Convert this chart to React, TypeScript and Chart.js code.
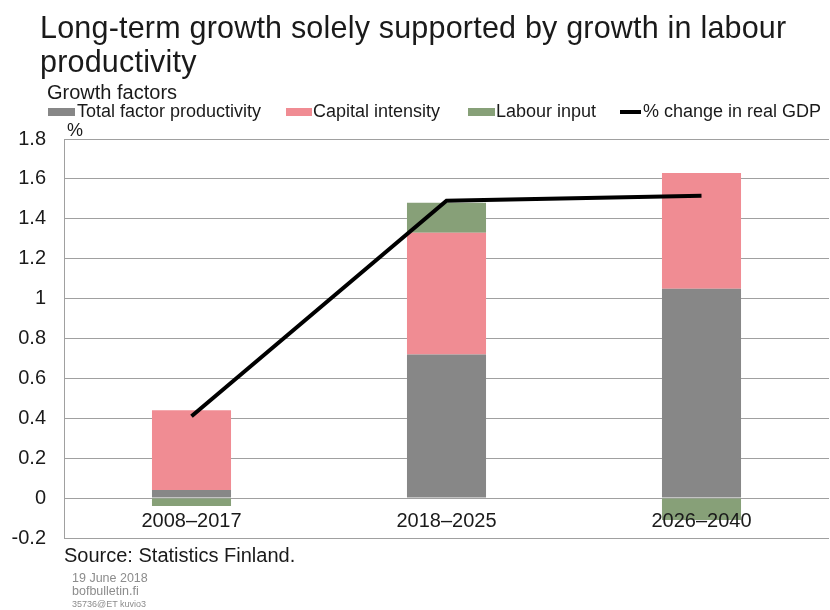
import React, { useEffect, useRef } from "react";
import { Chart, registerables } from "chart.js";

Chart.register(...registerables);

const categories = ["2008–2017", "2018–2025", "2026–2040"];
const tfp = [0.04, 0.72, 1.05];
const capitalIntensity = [0.4, 0.61, 0.58];
const labourInput = [-0.04, 0.15, -0.11];
const realGdp = [0.41, 1.49, 1.515];
const yTicks = [-0.2, 0, 0.2, 0.4, 0.6, 0.8, 1, 1.2, 1.4, 1.6, 1.8];

const FONT = '"Liberation Sans", Arial, sans-serif';
const TEXT = "#1a1a1a";
const GRAY = "#878787";
const PINK = "#f08c93";
const GREEN = "#87a078";

const catLabelPlugin = {
  id: "catLabels",
  afterDatasetsDraw(chart: any) {
    const { ctx, scales } = chart;
    const x = scales.x;
    const y = scales.y;
    ctx.save();
    ctx.font = "20px " + FONT;
    ctx.fillStyle = TEXT;
    ctx.textAlign = "center";
    ctx.textBaseline = "middle";
    const yy = y.getPixelForValue(0) + 23;
    categories.forEach((c, i) => {
      ctx.fillText(c, x.getPixelForValue(i), yy);
    });
    ctx.restore();
  },
};

export default function App() {
  const ref = useRef<HTMLCanvasElement>(null);
  useEffect(() => {
    if (!ref.current) return;
    const chart = new Chart(ref.current, {
      type: "bar",
      data: {
        labels: categories,
        datasets: [
          {
            type: "line",
            label: "% change in real GDP",
            data: realGdp,
            borderColor: "#000",
            backgroundColor: "#000",
            borderWidth: 4,
            pointRadius: 0,
            stack: "gdp",
            order: 0,
          } as any,
          {
            label: "Total factor productivity",
            data: tfp,
            backgroundColor: GRAY,
            stack: "f",
            order: 1,
          },
          {
            label: "Capital intensity",
            data: capitalIntensity,
            backgroundColor: PINK,
            stack: "f",
            order: 1,
          },
          {
            label: "Labour input",
            data: labourInput,
            backgroundColor: GREEN,
            stack: "f",
            order: 1,
          },
        ],
      },
      options: {
        responsive: false,
        animation: false,
        layout: { padding: { left: 0, right: 1, top: 139, bottom: 72 } },
        datasets: { bar: { barPercentage: 0.31, categoryPercentage: 1 } },
        plugins: { legend: { display: false }, tooltip: { enabled: false } },
        scales: {
          x: {
            stacked: true,
            display: false,
          },
          y: {
            stacked: true,
            min: -0.2,
            max: 1.8,
            afterBuildTicks: (axis: any) => {
              axis.ticks = yTicks.map((v) => ({ value: v }));
            },
            afterFit: (axis: any) => {
              axis.width = 64;
            },
            ticks: {
              font: { family: FONT, size: 20 },
              color: TEXT,
              padding: 18,
              callback: (v: any) => String(Math.round(Number(v) * 10) / 10),
            },
            grid: { color: "#a0a0a0", lineWidth: 1, drawTicks: false },
            border: { display: true, color: "#a0a0a0" },
          },
        },
      },
      plugins: [catLabelPlugin],
    });
    return () => chart.destroy();
  }, []);

  const abs = (left: number, top: number, extra: any = {}) => ({
    position: "absolute" as const,
    left,
    top,
    whiteSpace: "nowrap" as const,
    ...extra,
  });

  return (
    <div style={{ position: "absolute", left: 0, top: 0, width: 830, height: 610, fontFamily: FONT, color: TEXT, background: "#fff" }}>
      <canvas ref={ref} width={830} height={610} style={{ position: "absolute", left: 0, top: 0 }} />
      <div style={abs(40, 10, { fontSize: 30.5, lineHeight: "34px", letterSpacing: "0.2px" })}>
        Long-term growth solely supported by growth in labour
        <br />
        productivity
      </div>
      <div style={abs(47, 82, { fontSize: 20, lineHeight: "20px" })}>Growth factors</div>

      <div style={abs(48, 108, { width: 27, height: 8, background: GRAY })} />
      <div style={abs(77, 102, { fontSize: 18, lineHeight: "18px" })}>Total factor productivity</div>
      <div style={abs(286, 108, { width: 26, height: 8, background: PINK })} />
      <div style={abs(313, 102, { fontSize: 18, lineHeight: "18px" })}>Capital intensity</div>
      <div style={abs(468, 108, { width: 27, height: 8, background: GREEN })} />
      <div style={abs(496, 102, { fontSize: 18, lineHeight: "18px" })}>Labour input</div>
      <div style={abs(620, 110, { width: 21, height: 4, background: "#000" })} />
      <div style={abs(643, 102, { fontSize: 18, lineHeight: "18px" })}>% change in real GDP</div>

      <div style={abs(67, 121, { fontSize: 18, lineHeight: "18px" })}>%</div>
      <div style={abs(64, 545, { fontSize: 20, lineHeight: "20px" })}>Source: Statistics Finland.</div>
      <div style={abs(72, 572, { fontSize: 12.5, lineHeight: "13px", color: "#8c8c8c" })}>
        19 June 2018
        <br />
        bofbulletin.fi
      </div>
      <div style={abs(72, 599, { fontSize: 9, lineHeight: "10px", color: "#8c8c8c" })}>35736@ET kuvio3</div>
    </div>
  );
}
